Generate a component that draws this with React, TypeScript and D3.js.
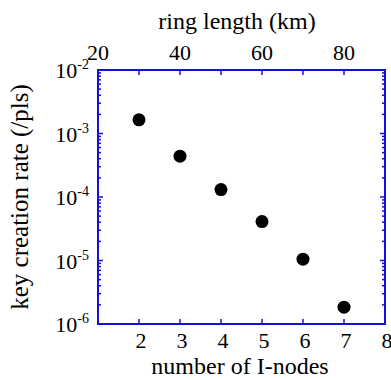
import React, { useEffect, useRef } from "react";
import * as d3 from "d3";

const nodes = [2, 3, 4, 5, 6, 7];
const rates = [1.64e-3, 4.4e-4, 1.31e-4, 4.1e-5, 1.05e-5, 1.84e-6];
const bottomTicks = [2, 3, 4, 5, 6, 7, 8];
const topTicks = [30, 40, 50, 60, 70, 80];
const topLabels = [20, 40, 60, 80];
const decades = [-2, -3, -4, -5, -6];

const App = () => {
  const ref = useRef<SVGSVGElement>(null);

  useEffect(() => {
    const svg = d3.select(ref.current);
    svg.selectAll("*").remove();

    const width = 391;
    const height = 380;
    const left = 98;
    const right = 385;
    const top = 70;
    const bottom = 324;
    const blue = "#1010d8";

    const x = d3.scaleLinear().domain([1, 8]).range([left, right]);
    const xTop = d3.scaleLinear().domain([20, 90]).range([left, right]);
    const y = d3.scaleLog().domain([1e-6, 1e-2]).range([bottom, top]);

    svg
      .attr("width", width)
      .attr("height", height)
      .attr("font-family", "Liberation Serif, DejaVu Serif, serif");

    // frame
    svg
      .append("rect")
      .attr("x", left)
      .attr("y", top)
      .attr("width", right - left)
      .attr("height", bottom - top)
      .attr("fill", "none")
      .attr("stroke", blue)
      .attr("stroke-width", 2);

    const g = svg.append("g").attr("stroke", blue).attr("stroke-width", 1.5);

    // bottom ticks
    bottomTicks
      .filter((d) => d < 8)
      .forEach((d) => {
        g.append("line")
          .attr("x1", x(d))
          .attr("x2", x(d))
          .attr("y1", bottom)
          .attr("y2", bottom - 5);
      });

    // top ticks
    topTicks.forEach((d) => {
      g.append("line")
        .attr("x1", xTop(d))
        .attr("x2", xTop(d))
        .attr("y1", top)
        .attr("y2", top + 5);
    });

    // log ticks left/right
    y.ticks().forEach((v) => {
      if (v <= 1e-6 || v >= 1e-2) return;
      const isMajor = Math.abs(Math.log10(v) - Math.round(Math.log10(v))) < 1e-9;
      const len = isMajor ? 5 : 3;
      g.append("line")
        .attr("x1", left)
        .attr("x2", left + len)
        .attr("y1", y(v))
        .attr("y2", y(v));
      g.append("line")
        .attr("x1", right)
        .attr("x2", right - len)
        .attr("y1", y(v))
        .attr("y2", y(v));
    });

    // bottom labels
    svg
      .append("g")
      .selectAll("text")
      .data(bottomTicks)
      .join("text")
      .attr("x", (d) => x(d) + 2)
      .attr("y", 348)
      .attr("text-anchor", "middle")
      .attr("font-size", 22)
      .text((d) => d);

    // top labels
    svg
      .append("g")
      .selectAll("text")
      .data(topLabels)
      .join("text")
      .attr("x", (d) => xTop(d))
      .attr("y", 60)
      .attr("text-anchor", "middle")
      .attr("font-size", 22)
      .text((d) => d);

    // y labels
    const yl = svg
      .append("g")
      .selectAll("text")
      .data(decades)
      .join("text")
      .attr("x", 89)
      .attr("y", (d) => y(Math.pow(10, d)) + 8)
      .attr("text-anchor", "end")
      .attr("font-size", 22);
    yl.append("tspan").text("10");
    yl.append("tspan")
      .attr("dy", -9)
      .attr("font-size", 14)
      .text((d) => String(d));

    // titles
    svg
      .append("text")
      .attr("x", 240)
      .attr("y", 374)
      .attr("text-anchor", "middle")
      .attr("font-size", 24)
      .text("number of I-nodes");

    svg
      .append("text")
      .attr("x", 237)
      .attr("y", 29)
      .attr("text-anchor", "middle")
      .attr("font-size", 24)
      .text("ring length (km)");

    svg
      .append("text")
      .attr("transform", "translate(28,197) rotate(-90)")
      .attr("text-anchor", "middle")
      .attr("font-size", 25)
      .text("key creation rate (/pls)");

    // points
    svg
      .append("g")
      .selectAll("circle")
      .data(nodes)
      .join("circle")
      .attr("cx", (d) => x(d))
      .attr("cy", (d, i) => y(rates[i]))
      .attr("r", 6.5)
      .attr("fill", "#000");
  }, []);

  return <svg ref={ref} style={{ position: "absolute", left: 0, top: 0 }} />;
};

export default App;
